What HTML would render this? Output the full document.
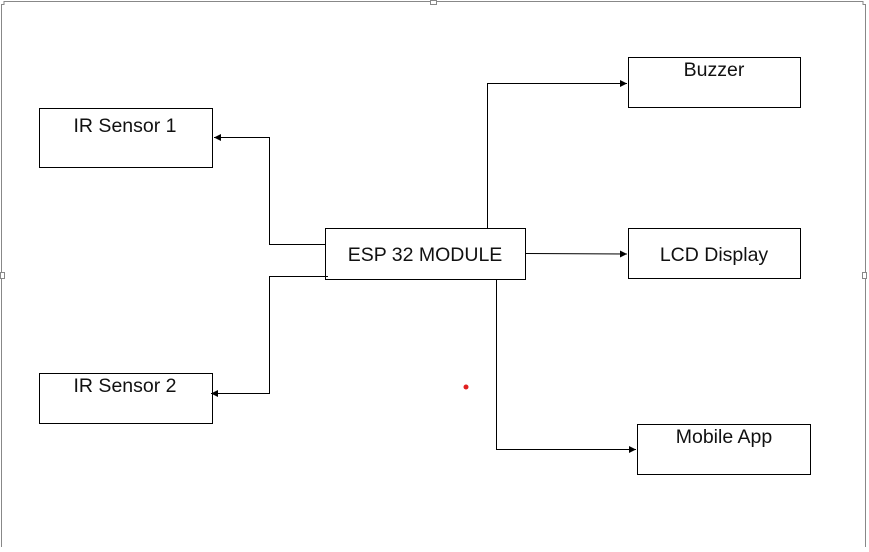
<!DOCTYPE html>
<html><head><meta charset="utf-8"><style>
body{margin:0;width:869px;height:547px;background:#fff;overflow:hidden}
svg text{font-family:"Liberation Sans",sans-serif;font-size:19.5px;fill:#111}
</style></head><body>
<svg width="869" height="547" xmlns="http://www.w3.org/2000/svg">
<defs><marker id="a" markerWidth="8" markerHeight="8" refX="7" refY="4" orient="auto" markerUnits="userSpaceOnUse"><path d="M0,0.5 L7,4 L0,7.5z" fill="#000"/></marker></defs>
<g fill="none" stroke="#888" stroke-width="1">
<path d="M1.5,547 V4.5 H4 V1.5 H431 M437,1.5 H863 V4.5 H865.5 V547"/>
<rect x="430.5" y="0.5" width="6" height="4" fill="#fff"/>
<rect x="0.5" y="272.5" width="4" height="6" fill="#fff"/>
<rect x="862.5" y="272.5" width="4" height="6" fill="#fff"/>
</g>
<g fill="#fff" stroke="#000" stroke-width="1">
<rect x="39.5" y="108.5" width="173" height="59"/>
<rect x="39.5" y="373.5" width="173" height="50"/>
<rect x="325.5" y="228.5" width="200" height="51"/>
<rect x="628.5" y="57.5" width="172" height="50"/>
<rect x="628.5" y="228.5" width="172" height="50"/>
<rect x="637.5" y="424.5" width="173" height="50"/>
</g>
<g fill="none" stroke="#000" stroke-width="1">
<path d="M325,244.5 H269.5 V137.5 H214" marker-end="url(#a)"/>
<path d="M328,276.5 H269.5 V393.5 H211" marker-end="url(#a)"/>
<path d="M487.5,228 V83.5 H627" marker-end="url(#a)"/>
<path d="M526,253.5 L627,254" marker-end="url(#a)"/>
<path d="M496.5,280 V449.5 H636" marker-end="url(#a)"/>
</g>
<circle cx="466" cy="387" r="2.5" fill="#e02020"/>
<text x="125" y="132" text-anchor="middle">IR Sensor 1</text>
<text x="125" y="392" text-anchor="middle">IR Sensor 2</text>
<text x="425" y="261" text-anchor="middle">ESP 32 MODULE</text>
<text x="714" y="76" text-anchor="middle">Buzzer</text>
<text x="714" y="261" text-anchor="middle">LCD Display</text>
<text x="724" y="443" text-anchor="middle">Mobile App</text>
</svg>
</body></html>
